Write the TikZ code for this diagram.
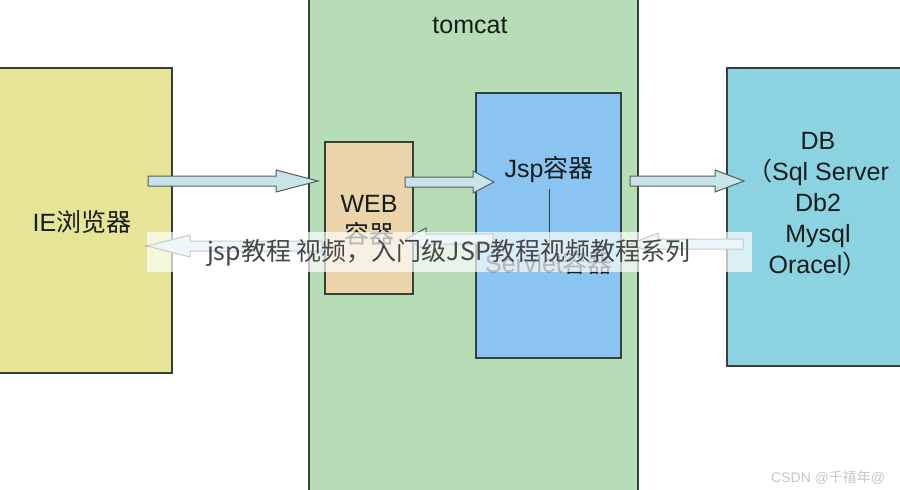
\documentclass[tikz,border=0pt]{standalone}
\usepackage{fontspec}
\setmainfont{Liberation Sans}
\newfontfamily\cjk{Noto Sans CJK SC}
\usetikzlibrary{calc}
\definecolor{ieyellow}{HTML}{E6E496}
\definecolor{tomgreen}{HTML}{B6DDB6}
\definecolor{webbeige}{HTML}{EBD4AA}
\definecolor{jspblue}{HTML}{8AC4F0}
\definecolor{dbcyan}{HTML}{8CD3E1}
\definecolor{arrowfill}{HTML}{C8E4EA}
\definecolor{edge}{HTML}{33413A}
\definecolor{txt}{HTML}{161C1C}
\tikzset{
 box/.style={draw=edge, line width=1.2pt, inner sep=0pt, outer sep=0pt},
 lbl/.style={font=\fontsize{25}{31}\selectfont, text=txt, align=center, inner sep=0pt},
 barrowstyle/.style={draw=edge!85, fill=arrowfill, line width=1pt, line join=miter},
}
\newcommand\blockarrow[3]{%
 \path[barrowstyle] let \p1=(#1), \p2=(#2), \n2={\x2-sign(\x2-\x1)*#3pt} in
   (\x1,\y1+5pt) -- (\n2,\y1+5pt) -- (\n2,\y1+11pt) -- (\x2,\y1)
   -- (\n2,\y1-11pt) -- (\n2,\y1-5pt) -- (\x1,\y1-5pt) -- cycle;}
\begin{document}
\begin{tikzpicture}[x=1pt,y=-1pt]
\useasboundingbox (0,0) rectangle (900,490);
\clip (0,0) rectangle (900,490);
\fill[white] (0,0) rectangle (900,490);
% boxes
\node[box, fill=tomgreen, minimum width=329pt, minimum height=500pt] (tomcat) at (473.5,245) {};
\node[box, fill=ieyellow, minimum width=177pt, minimum height=305pt] (ie) at (83.5,220.5) {};
\node[box, fill=webbeige, minimum width=88pt, minimum height=152pt] (web) at (369,218) {};
\node[box, fill=jspblue, minimum width=145pt, minimum height=265pt] (jsp) at (548.5,225.5) {};
\node[box, fill=dbcyan, minimum width=178pt, minimum height=298pt] (db) at (816,217) {};
% labels
\node[lbl] (tomcattext) at (470,26) {tomcat};
\node[lbl] (ietext) at (82,222) {IE{\cjk 浏览器}};
\node[lbl] (webtext) at (369,220) {WEB\\{\cjk 容器}};
\node[lbl] (jsptext) at (549,170) {Jsp{\cjk 容器}};
\node[lbl] (servlettext) at (549,263) {Servlet{\cjk 容器}};
\node[lbl] (dbtext) at (818,204) {DB\\{\cjk （}Sql Server\\Db2\\Mysql\\Oracel{\cjk ）}};
\path (jsptext.south) ++(0,6) coordinate (ln1) (servlettext.north) ++(0,-2) coordinate (ln2);
\draw[edge, line width=1pt] (ln1) -- (ln2);
% arrow end points
\coordinate (a1s) at (148,181); \coordinate (a1e) at (318,181);
\coordinate (a2s) at (405,182); \coordinate (a2e) at (494,182);
\coordinate (a3s) at (630,181); \coordinate (a3e) at (744,181);
\coordinate (b1s) at (743,244); \coordinate (b1e) at (630,244);
\coordinate (b2s) at (493,239); \coordinate (b2e) at (406,239);
\coordinate (b3s) at (322,246); \coordinate (b3e) at (147,246);
\blockarrow{a1s}{a1e}{42}
\blockarrow{a2s}{a2e}{21}
\blockarrow{a3s}{a3e}{29}
\blockarrow{b1s}{b1e}{28}
\blockarrow{b2s}{b2e}{20}
\blockarrow{b3s}{b3e}{43}
% overlay band
\fill[white, opacity=0.68] (147,232) rectangle (752,272);
\node[font=\cjk\fontsize{25}{28}\selectfont, text=black!72, inner sep=0pt] (overlay) at (449,253) {jsp教程 视频，入门级JSP教程视频教程系列};
% watermark
\node[font=\fontsize{14}{16}\selectfont, text=black!22, anchor=west, inner sep=0pt] (wm) at (771,478) {CSDN @{\cjk 千禧年}@};
\end{tikzpicture}
\end{document}
